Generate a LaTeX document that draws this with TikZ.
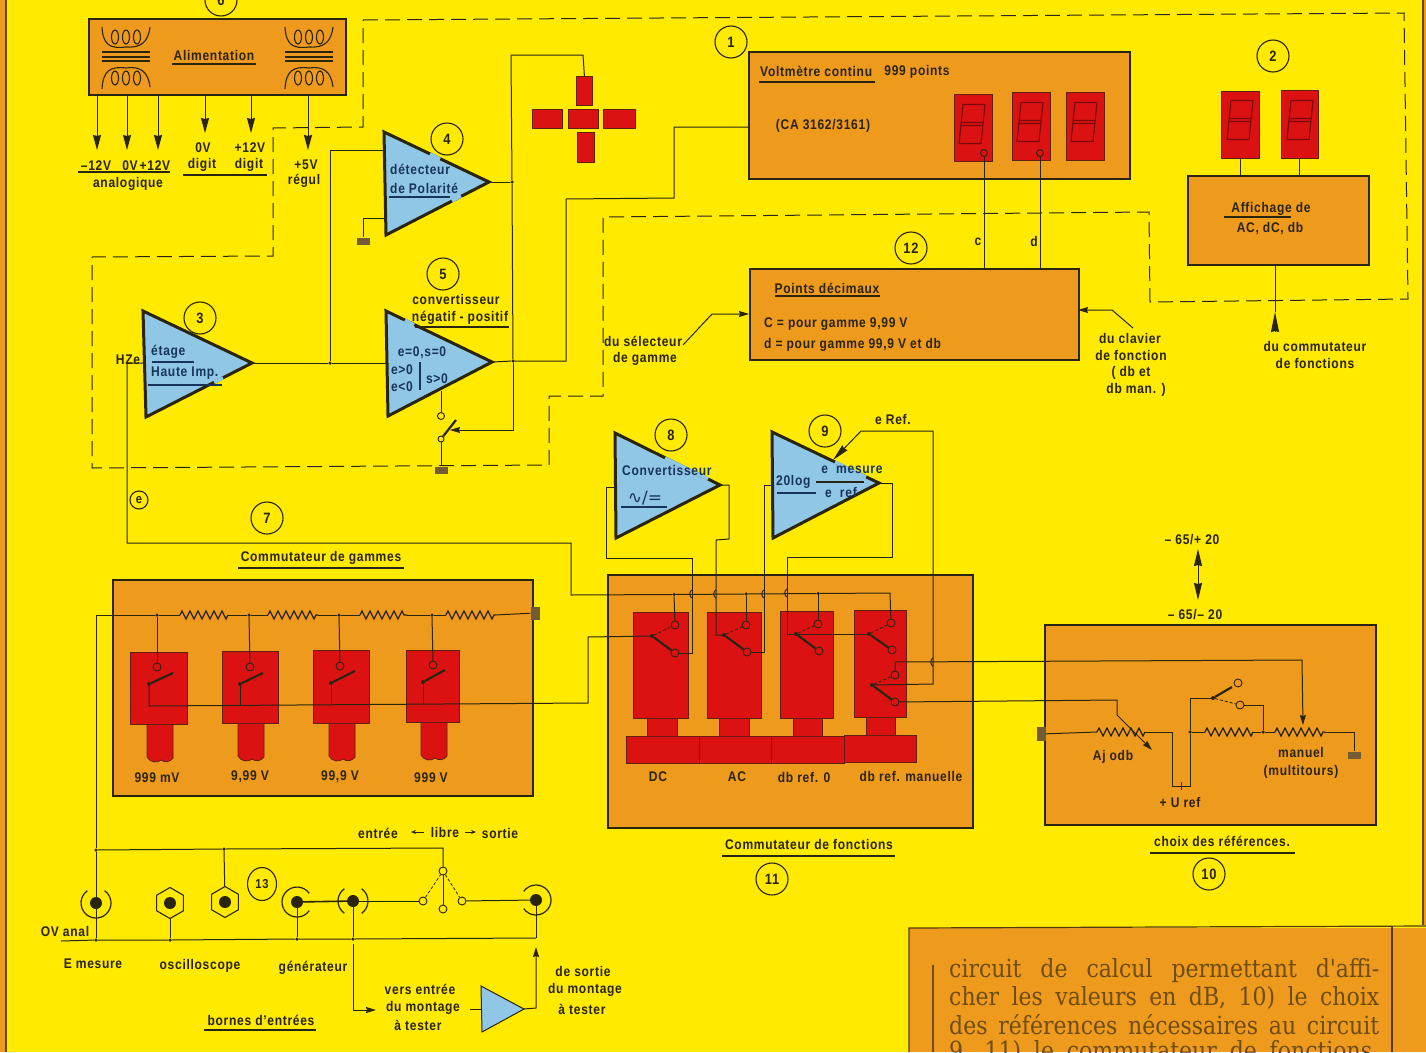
\documentclass[tikz,border=0pt]{standalone}
\usepackage{fontspec}
\setmainfont{Liberation Sans}[FakeStretch=0.86,LetterSpace=5]
\newfontfamily\slabfont{DejaVu Serif}[FakeStretch=0.88]
\newfontfamily\symfont{DejaVu Sans}
\usepackage{tikz}
\usetikzlibrary{arrows.meta, calc, shapes.geometric, decorations.pathmorphing}
\definecolor{paper}{HTML}{FFEA00}
\definecolor{ambre}{HTML}{EE9A1C}
\definecolor{rouge}{HTML}{DC1212}
\definecolor{bleu}{HTML}{90C6E6}
\definecolor{ink}{HTML}{2A2412}
\definecolor{navy}{HTML}{17355A}
\definecolor{brun}{HTML}{6E4C12}

\begin{document}
\begin{tikzpicture}[
  x=1pt, y=-1pt,
  lbl/.style    = {font=\fontsize{14}{16}\selectfont\bfseries, text=ink, inner sep=0pt, align=center, yshift=-1.5pt},
  ampl/.style   = {lbl, text=navy},
  num/.style    = {circle, draw=ink, line width=1.1pt, minimum size=32pt, inner sep=0pt,
                   font=\fontsize{15}{16}\selectfont\bfseries, text=ink},
  panel/.style  = {draw=ink, line width=2.4pt, fill=ambre, anchor=north west, inner sep=0pt},
  redbox/.style = {draw=ink!70!rouge, line width=.8pt, fill=rouge, anchor=north west, inner sep=0pt},
  amp/.style    = {draw=ink, line width=3pt, fill=bleu, line join=miter},
  ampgap/.style = {draw=bleu, line width=3.4pt},
  wire/.style   = {draw=ink, line width=1pt},
  hop/.style    = {wire, bend right=70},
  flow/.style   = {wire, -{Stealth[length=15pt,width=8pt,inset=1pt]}},
  small/.style  = {wire, -{Stealth[length=10pt,width=6pt,inset=1pt]}},
  uline/.style  = {draw=ink, line width=1.2pt},
  dashb/.style  = {draw=ink, line width=1pt, dash pattern=on 15pt off 7pt},
  res/.style    = {wire, line width=1.3pt, decorate, decoration={zigzag, segment length=8pt, amplitude=4pt}},
  contact/.style= {circle, draw=ink, line width=.9pt, minimum size=8pt, inner sep=0pt},
  pivot/.style  = {circle, fill=ink, minimum size=4pt, inner sep=0pt},
  dot/.style    = {circle, fill=ink, minimum size=3.5pt, inner sep=0pt},
  blade/.style  = {draw=ink, line width=2.2pt},
  open/.style   = {draw=ink, line width=.8pt, dashed, dash pattern=on 3pt off 2pt},
  gnd/.style    = {fill=brun!70!gray, minimum width=13pt, minimum height=7pt, inner sep=0pt},
  bnc/.style    = {circle, fill=ink, minimum size=12pt, inner sep=0pt},
  hexa/.style   = {regular polygon, regular polygon sides=6, shape border rotate=30, draw=ink,
                   line width=1.1pt, minimum size=31pt, inner sep=0pt},
  para/.style   = {font=\fontsize{25}{27}\selectfont\slabfont, text=brun, anchor=west, inner sep=0pt},
  digit/.pic    = {\draw[draw=rouge!55!black, line width=1.2pt]
                     (-9,-19.5) -- (13,-19.5) -- (9,19.5) -- (-13,19.5) -- cycle
                     (-11,-1.5) -- (11,-1.5) (-11,1.5) -- (11,1.5);},
  stem/.pic     = {\draw[draw=ink!70!rouge, line width=.8pt, fill=rouge] (0,0) -- (0,33)
                     .. controls (3,39) and (11,39) .. (14,36) .. controls (18,39) and (23,38) .. (26,34)
                     -- (26,0) -- cycle;},
  trafo/.pic    = {\draw[draw=ink, line width=1.1pt]
                     (0,0) .. controls (1,18) and (8,22) .. (24,20) .. controls (38,21) and (46,16) .. (48,0)
                     (13,10) circle[x radius=3.5, y radius=7] (24,10) circle[x radius=3.5, y radius=7]
                     (35,10) circle[x radius=3.5, y radius=7];
                   \draw[draw=ink, line width=1.3pt] (0,25) -- (48,25) (0,30) -- (48,30) (0,34) -- (48,34);
                   \draw[draw=ink, line width=1.1pt]
                     (0,62) .. controls (1,44) and (8,39) .. (24,41) .. controls (38,39) and (46,44) .. (48,60)
                     (13,51) circle[x radius=3.5, y radius=7] (24,51) circle[x radius=3.5, y radius=7]
                     (35,51) circle[x radius=3.5, y radius=7];},
  ring/.pic     = {\draw[draw=ink, line width=1.2pt] (35:15) arc[start angle=35, end angle=325, radius=15];},
  ringb/.pic    = {\draw[draw=ink, line width=1.2pt] (35:15) arc[start angle=35, end angle=145, radius=15]
                     (215:15) arc[start angle=215, end angle=325, radius=15];},
]
\useasboundingbox (0,0) rectangle (1426,1052);

% --- page ----------------------------------------------------------------
\fill[paper] (0,0) rectangle (1426,1052);
\fill[ambre] (0,0) rectangle (5,1052);
\fill[ambre] (1423,0) rectangle (1426,925);
\draw[draw=ink!70!ambre, line width=1.4pt] (6,0) -- (6,1052);
\draw[draw=ink!70!ambre, line width=1.4pt] (1423,0) -- (1423,925);

% --- dashed frame --------------------------------------------------------
\draw[dashb] (363,20) -- (1404,13) -- (1408,299) -- (1150,302) -- (1149,212) -- (603,217)
  -- (603,396) -- (549,396) -- (549,465) -- (92,468) -- (92,257) -- (273,256) -- (273,128)
  -- (363,127) -- cycle;

% --- power supply --------------------------------------------------------
\node[panel, minimum width=257pt, minimum height=76pt] (alim) at (88,18) {};
\path (102,27) pic {trafo} (285,27) pic {trafo};
\node[lbl] (talim) at (214,54) {Alimentation};
\draw[uline] (172,64) -- (256,64);
\node[num] (n6) at (221,0) {6};
\coordinate (m12) at (97,94);   \coordinate (z12) at (127,94);  \coordinate (p12) at (158,94);
\coordinate (z0)  at (205,94);  \coordinate (p12d) at (251,94); \coordinate (p5) at (308,94);
\node[lbl] (tm12) at (96,164) {–12V};
\node[lbl] (tz12) at (130,164) {0V};
\node[lbl] (tp12) at (155,164) {+12V};
\node[lbl] (tana) at (128,182) {analogique};
\node[lbl] (tz0)  at (203,146) {0V};
\node[lbl] (td0)  at (202,163) {digit};
\node[lbl] (tpd)  at (250,146) {+12V};
\node[lbl] (td1)  at (249,163) {digit};
\node[lbl] (tp5)  at (306,163) {+5V};
\node[lbl] (treg) at (304,179) {régul};
\draw[flow] (m12) -- (97,150);
\draw[flow] (z12) -- (127,150);
\draw[flow] (p12) -- (158,150);
\draw[flow] (z0) -- (205,133);
\draw[flow] (p12d) -- (251,133);
\draw[flow] (p5) -- (308,150);
\draw[uline] (78,172) -- (170,172);
\draw[uline] (183,175) -- (267,175);

% --- amplifiers -----------------------------------------------------------
\draw[amp] (143,311) -- (252,363) coordinate (a3o) -- (146,417) -- cycle;
\draw[amp] (386,311) -- (492,362) coordinate (a5o) -- (388,416) -- cycle;
\draw[amp] (384,132) -- (489,182) coordinate (a4o) -- (386,235) -- cycle;
\draw[amp] (615,433) -- (720,485) coordinate (a8o) -- (616,538) -- cycle;
\draw[amp] (772,432) -- (879,483) coordinate (a9o) -- (773,538) -- cycle;
\coordinate (a3i) at (144,363); \coordinate (a5i) at (387,363); \coordinate (a4i) at (385,150);
\coordinate (a4g) at (385,218); \coordinate (a8i) at (615,487); \coordinate (a9i) at (772,485);
\coordinate (a5s) at (441,391); \coordinate (a9r) at (833,460);

% the outline stops where a label runs over it
\draw[ampgap] (665,458) -- (708,479);
\draw[ampgap] (835,462) -- (866,477);
\draw[ampgap] (214,382) -- (223,378);
\draw[ampgap] (430,154) -- (440,159);
\draw[ampgap] (452,201) -- (461,196);
\draw[ampgap] (405,320) -- (414,325);

\node[ampl, anchor=west] (tet) at (151,350) {étage};
\node[ampl, anchor=west] (tha) at (151,372) {Haute Imp.};
\draw[uline, draw=navy] (152,362) -- (194,362);
\draw[uline, draw=navy] (148,385) -- (222,385);
\node[ampl, anchor=west] (tde) at (390,168) {détecteur};
\node[ampl, anchor=west] (tpo) at (390,187) {de Polarité};
\draw[uline, draw=navy] (389,197) -- (450,197);
\node[lbl] (tco) at (456,298) {convertisseur};
\node[lbl] (tng) at (460,316) {négatif - positif};
\draw[uline] (415,327) -- (509,327);
\node[ampl] (te0) at (422,351) {e=0,s=0};
\node[ampl] (te1) at (402,368) {e>0};
\node[ampl] (te2) at (402,385) {e<0};
\node[ampl] (ts0) at (437,377) {s>0};
\draw[uline, draw=navy] (420,362) -- (420,390);
\node[ampl, anchor=west] (tcv) at (622,469) {Convertisseur};
\node[ampl, font=\fontsize{17}{17}\selectfont\symfont] (tac) at (645,497) {∿/=};
\draw[uline, draw=navy] (621,507) -- (667,507);
\node[ampl, anchor=west] (t20) at (776,480) {20log};
\node[ampl] (tms) at (852,468) {e\ \ mesure};
\node[ampl] (trf) at (841,491) {e\ \ ref};
\draw[uline, draw=navy] (777,493) -- (816,493);
\draw[uline] (816,482) -- (864,482);

\node[num] (n3) at (200,318) {3};
\node[num] (n4) at (447,139) {4};
\node[num] (n5) at (443,274) {5};
\node[num] (n8) at (671,435) {8};
\node[num] (n9) at (825,431) {9};
\node[num] (n7) at (267,518) {7};
\node[num] (n1) at (731,42) {1};
\node[num] (n2) at (1273,56) {2};
\node[num] (n12) at (911,248) {12};
\node[num] (n11) at (772,879) {11};
\node[num] (n10) at (1209,874) {10};
\node[num, minimum size=18pt, font=\fontsize{13}{14}\selectfont\bfseries] (ne) at (139,500) {e};
\node[num, ellipse, minimum width=29pt, minimum height=33pt, font=\fontsize{13}{14}\selectfont\bfseries] (n13) at (262,884) {13};
\node[lbl] (thz) at (128,358) {HZe};

% --- polarity lamps --------------------------------------------------------
\node[redbox, minimum width=16pt, minimum height=29pt] (lt) at (576,76) {};
\node[redbox, minimum width=30pt, minimum height=19pt] (ll) at (532,109) {};
\node[redbox, minimum width=30pt, minimum height=19pt] (lc) at (568,109) {};
\node[redbox, minimum width=32pt, minimum height=19pt] (lr) at (603,109) {};
\node[redbox, minimum width=17pt, minimum height=30pt] (lb) at (577,132) {};

% --- voltmeter -------------------------------------------------------------
\node[panel, minimum width=381pt, minimum height=127pt] (volt) at (748,51) {};
\node[lbl, anchor=west] (tvo) at (760,70) {Voltmètre continu};
\node[lbl] (t999) at (917,70) {999 points};
\draw[uline] (759,82) -- (875,82);
\node[lbl] (tca) at (823,124) {(CA 3162/3161)};
\node[redbox, minimum width=38pt, minimum height=67pt] (d1) at (954,94) {};
\node[redbox, minimum width=38pt, minimum height=68pt] (d2) at (1012,92) {};
\node[redbox, minimum width=38pt, minimum height=68pt] (d3) at (1066,92) {};
\path (972,124) pic {digit} (1030,122) pic {digit} (1084,122) pic {digit};
\node[contact, minimum size=7pt] (cc) at (984,153) {};
\node[contact, minimum size=7pt] (cd) at (1040,153) {};

% --- function display ------------------------------------------------------
\node[panel, minimum width=181pt, minimum height=89pt] (aff) at (1187,175) {};
\node[redbox, minimum width=38pt, minimum height=67pt] (d4) at (1221,91) {};
\node[redbox, minimum width=37pt, minimum height=68pt] (d5) at (1281,90) {};
\path (1240,120) pic {digit} (1300,120) pic {digit};
\node[lbl] (taf) at (1271,207) {Affichage de};
\node[lbl] (tacd) at (1270,227) {AC, dC, db};
\draw[uline] (1224,217) -- (1291,217);
\draw[wire] (d4.south) -- (d4.south |- aff.north);
\draw[wire] (d5.south) -- (d5.south |- aff.north);
\coordinate (affin) at (1275,264);
\draw[wire] (1275,312) -- (affin);
\draw[flow, -{Stealth[length=20pt,width=8pt,inset=1pt]}] (1275,332) -- (1275,312);
\node[lbl] (tdu) at (1315,345) {du commutateur};
\node[lbl] (tfo) at (1315,362) {de fonctions};

% --- decimal points --------------------------------------------------------
\node[panel, minimum width=329pt, minimum height=91pt] (pts) at (749,268) {};
\node[lbl] (tpt) at (827,287) {Points décimaux};
\draw[uline] (775,296) -- (880,296);
\node[lbl, anchor=west] (tc1) at (764,323) {C\ = pour gamme 9,99 V};
\node[lbl, anchor=west] (td2) at (764,343) {d\ = pour gamme 99,9 V et db};
\coordinate (ptsl) at (749,314);
\coordinate (ptsr) at (1078,310);
\draw[wire] (cc) -- (cc |- pts.north);
\draw[wire] (cd) -- (cd |- pts.north);
\node[lbl] (tcc) at (978,240) {c};
\node[lbl] (tdd) at (1034,240) {d};
\draw[small] (683,345) -- (712,314) -- (ptsl);
\draw[small] (1133,328) -- (1112,310) -- (ptsr);
\node[lbl] (tse) at (643,340) {du sélecteur};
\node[lbl] (tga) at (645,357) {de gamme};
\node[lbl] (tcl) at (1130,337) {du clavier};
\node[lbl] (tfn) at (1131,354) {de fonction};
\node[lbl] (tdb) at (1131,371) {( db et};
\node[lbl] (tma) at (1136,388) {db man. )};

% --- input chain -----------------------------------------------------------
\node[dot] (j1) at (330,363) {};
\node[dot] (j2) at (512,182) {};
\node[dot] (j3) at (513,361) {};
\draw[wire] (a3o) -- (j1) -- (a5i);
\draw[wire] (j1) -- (330,150) -- (a4i);
\node[gnd] (g1) at (363,241) {};
\draw[wire] (a4g) -- (363,218) -- (g1);
\draw[wire] (a4o) -- (j2);
\draw[wire] (583,55) -- (511,55) -- (j2) -- (j3);
\draw[wire] (583,55) -- (lt.north);
\draw[wire] (a5o) -- (j3) -- (566,361) -- (566,199) -- (674,198) -- (674,127) -- (volt.west |- 0,127);
\node[contact, minimum size=7pt] (s1) at (441,416) {};
\node[contact, minimum size=6pt] (s2) at (441,439) {};
\node[gnd] (g2) at (441,470) {};
\coordinate (s3) at (456,420);
\draw[wire] (a5s) -- (s1);
\draw[blade] (s2) -- (s3);
\draw[wire] (s2) -- (g2);
\draw[small] (j3) -- (513,430) -- (450,430);

% --- range switch ----------------------------------------------------------
\node[lbl] (tcg) at (321,556) {Commutateur de gammes};
\draw[uline] (238,568) -- (404,568);
\node[panel, minimum width=420pt, minimum height=216pt] (gam) at (112,579) {};
\path (147,724) pic {stem} (238,723) pic {stem} (329,723) pic {stem} (421,722) pic {stem};
\node[redbox, minimum width=57pt, minimum height=72pt] (r1) at (130,652) {};
\node[redbox, minimum width=56pt, minimum height=72pt] (r2) at (222,651) {};
\node[redbox, minimum width=56pt, minimum height=73pt] (r3) at (313,650) {};
\node[redbox, minimum width=53pt, minimum height=72pt] (r4) at (406,650) {};
\node[lbl] (t1v) at (157,776) {999 mV};
\node[lbl] (t2v) at (250,775) {9,99 V};
\node[lbl] (t3v) at (340,775) {99,9 V};
\node[lbl] (t4v) at (431,776) {999 V};
\node[gnd, minimum width=9pt, minimum height=13pt] (g3) at (535,613) {};
\node[dot] (k0) at (157,615) {};
\node[dot] (k1) at (249,615) {};
\node[dot] (k2) at (339,615) {};
\node[dot] (k3) at (432,615) {};
\coordinate (ra1) at (180,615); \coordinate (rb1) at (228,615);
\coordinate (ra2) at (268,615); \coordinate (rb2) at (318,615);
\coordinate (ra3) at (360,615); \coordinate (rb3) at (407,615);
\coordinate (ra4) at (446,615); \coordinate (rb4) at (495,615);
\draw[res] (ra1) -- (rb1);
\draw[res] (ra2) -- (rb2);
\draw[res] (ra3) -- (rb3);
\draw[res] (ra4) -- (rb4);
\node[contact] (q1) at (157,667) {};
\node[contact] (q2) at (250,667) {};
\node[contact] (q3) at (340,666) {};
\node[contact] (q4) at (433,665) {};
\node[pivot] (v1) at (149,684) {};
\node[pivot] (v2) at (240,684) {};
\node[pivot] (v3) at (331,683) {};
\node[pivot] (v4) at (423,682) {};
\draw[blade] (v1) -- (173,673);
\draw[blade] (v2) -- (263,673);
\draw[blade] (v3) -- (355,671);
\draw[blade] (v4) -- (445,670);
\draw[wire] (k0) -- (q1);
\draw[wire] (k1) -- (q2);
\draw[wire] (k2) -- (q3);
\draw[wire] (k3) -- (q4);
\draw[wire] (v2) -- (240,705);
\draw[wire] (v3) -- (331,705);
\draw[wire] (v4) -- (423,704);

% --- function switch -------------------------------------------------------
\node[panel, minimum width=365pt, minimum height=253pt] (fon) at (607,574) {};
\node[redbox, minimum width=30pt, minimum height=20pt] (m1) at (647,717) {};
\node[redbox, minimum width=30pt, minimum height=20pt] (m2) at (719,717) {};
\node[redbox, minimum width=29pt, minimum height=20pt] (m3) at (793,717) {};
\node[redbox, minimum width=29pt, minimum height=20pt] (m4) at (866,716) {};
\node[redbox, minimum width=55pt, minimum height=106pt] (f1) at (633,612) {};
\node[redbox, minimum width=54pt, minimum height=106pt] (f2) at (707,612) {};
\node[redbox, minimum width=53pt, minimum height=107pt] (f3) at (780,611) {};
\node[redbox, minimum width=52pt, minimum height=107pt] (f4) at (854,610) {};
\node[redbox, minimum width=73pt, minimum height=27pt] (b1) at (626,736) {};
\node[redbox, minimum width=72pt, minimum height=27pt] (b2) at (699,736) {};
\node[redbox, minimum width=73pt, minimum height=27pt] (b3) at (771,736) {};
\node[redbox, minimum width=72pt, minimum height=27pt] (b4) at (844,735) {};
\node[lbl] (tdc) at (658,775) {DC};
\node[lbl] (tac2) at (737,775) {AC};
\node[lbl] (tr0) at (804,776) {db ref. 0};
\node[lbl] (trm) at (911,775) {db ref. manuelle};
\node[lbl] (tcf) at (809,843) {Commutateur de fonctions};
\draw[uline] (722,856) -- (895,856);

\node[contact] (u1) at (675,625) {};
\node[contact] (u2) at (746,625) {};
\node[contact] (u3) at (818,624) {};
\node[contact] (u4) at (891,623) {};
\node[contact] (w1) at (675,653) {};
\node[contact] (w2) at (747,652) {};
\node[contact] (w3) at (819,651) {};
\node[contact] (w4) at (892,650) {};
\node[pivot] (p1) at (652,636) {};
\node[pivot] (p2) at (724,635) {};
\node[pivot] (p3) at (796,634) {};
\node[pivot] (p4) at (869,634) {};
\node[pivot] (p5x) at (872,685) {};
\node[contact] (u5) at (895,675) {};
\node[contact] (w5) at (895,702) {};
\draw[blade] (p1) -- (w1);
\draw[blade] (p2) -- (w2);
\draw[blade] (p3) -- (w3);
\draw[blade] (p4) -- (w4);
\draw[blade] (p5x) -- (w5);
\draw[open] (p1) -- (u1);
\draw[open] (p2) -- (u2);
\draw[open] (p3) -- (u3);
\draw[open] (p4) -- (u4);
\draw[open] (p5x) -- (u5);
\node[dot] (h1) at (674,594.5) {};
\node[dot] (h2) at (746,594) {};
\node[dot] (h3) at (818,593.5) {};
\draw[wire] (a3i) -- (127,363) -- (127,543) -- (571,543) -- (571,595) -- (h1) -- (h2) -- (h3) -- (890,593);
\draw[wire] (h1) -- (u1);
\draw[wire] (h2) -- (u2);
\draw[wire] (h3) -- (u3);
\draw[wire] (890,593) -- (u4);
\draw[wire] (a8i) -- (606,487) -- (606,558) -- (692,558) -- (692,653) -- (w1);
\draw[wire] (a8o) -- (729,485) -- (729,539) -- (716,540) -- (716,635) -- (p2);
\draw[wire] (a9i) -- (764,485) -- (764,652) -- (w2);
\draw[wire] (a9o) -- (892,483) -- (892,557) -- (787,557) -- (787,634) -- (p3);
\draw[wire] (p3) -- (p4);
\draw[flow, -{Stealth[length=17pt,width=7pt,inset=1pt]}] (p5x) -- (933,684) -- (933,431) -- (861,431) -- (a9r);
\node[lbl] (tre) at (893,418) {e Ref.};
\draw[hop] (692,590) to (692,598);
\draw[hop] (716,590) to (716,598);
\draw[hop] (764,590) to (764,598);
\draw[hop] (787,589) to (787,597);
\draw[hop] (933,658) to (933,666);

% --- references ------------------------------------------------------------
\node[panel, minimum width=331pt, minimum height=200pt] (refb) at (1044,624) {};
\node[lbl] (tu1) at (1192,538) {– 65/+ 20};
\node[lbl] (tu2) at (1195,613) {– 65/– 20};
\coordinate (up) at (1198,549);
\coordinate (dn) at (1198,600);
\draw[wire, {Stealth[length=17pt,width=8pt,inset=1pt]}-{Stealth[length=17pt,width=8pt,inset=1pt]}] (up) -- (dn);
\node[gnd, minimum width=9pt, minimum height=14pt] (g4) at (1041,734) {};
\coordinate (aj1) at (1097,732); \coordinate (aj2) at (1145,732);
\coordinate (mid1) at (1205,732); \coordinate (mid2) at (1253,732);
\coordinate (man1) at (1275,732); \coordinate (man2) at (1325,732);
\node[dot] (j4) at (1190,732) {};
\node[dot] (j5) at (1263,732) {};
\node[gnd] (g5) at (1354,755) {};
\draw[wire] (g4) -- (aj1);
\draw[res] (aj1) -- (aj2);
\draw[wire] (aj2) -- (1172,732) -- (1172,786) -- (1190,786) -- (j4);
\draw[wire] (j4) -- (mid1);
\draw[res] (mid1) -- (mid2);
\draw[wire] (mid2) -- (j5) -- (man1);
\draw[res] (man1) -- (man2);
\draw[wire] (man2) -- (1354,732) -- (g5);
\draw[wire] (1181,782) -- (1181,790);
\node[pivot] (p6) at (1213,698) {};
\node[contact] (u6) at (1238,683) {};
\node[contact] (w6) at (1240,705) {};
\draw[blade] (p6) -- (1232,687);
\draw[open] (p6) -- (w6);
\draw[wire] (j4) -- (1190,698) -- (p6);
\draw[wire] (w6) -- (1263,705) -- (j5);
\node[lbl] (taj) at (1113,755) {Aj odb};
\node[lbl] (tur) at (1180,801) {+ U ref};
\node[lbl] (tmn) at (1301,751) {manuel};
\node[lbl] (tmt) at (1301,770) {(multitours)};
\node[lbl] (tch) at (1222,840) {choix des références.};
\draw[uline] (1150,853) -- (1295,853);
\draw[small] (u5) -- (895,662) -- (1302,660) -- (1303,725);
\draw[small] (w5) -- (1117,700) -- (1117,715) -- (1152,750);

% --- terminals -------------------------------------------------------------
\node[bnc] (t1) at (96,903) {};
\node[bnc] (t2) at (170,903) {};
\node[bnc] (t3) at (225,902) {};
\node[bnc] (t4) at (297,902) {};
\node[bnc] (t5) at (353,901) {};
\node[bnc] (t6) at (536,900) {};
\path (96,903) pic[rotate=90] {ring} (297,902) pic {ring}
      (353,901) pic[rotate=90] {ringb} (536,900) pic[rotate=180] {ring};
\node[hexa] (x2) at (170,903) {};
\node[hexa] (x3) at (225,902) {};
\node[contact] (y1) at (423,901) {};
\node[contact] (y2) at (443,871) {};
\node[contact] (y3) at (443,909) {};
\node[contact] (y4) at (462,901) {};
\node[dot] (j6) at (96,850) {};
\node[dot] (j7) at (224,849) {};
\node[dot] (e1) at (96,940) {};
\node[dot] (e2) at (170,940) {};
\node[dot] (e3) at (297,939) {};
\node[dot] (e4) at (353,939) {};
\coordinate (rail1) at (61,941);
\coordinate (rail2) at (536,938);
\coordinate (dut) at (376,1010);

% wires of the range switch first run down to the terminals
\draw[wire] (rb4) -- (g3);
\draw[wire] (j6 |- k0) -- (k0) -- (ra1);
\draw[wire] (rb1) -- (k1) -- (ra2);
\draw[wire] (rb2) -- (k2) -- (ra3);
\draw[wire] (rb3) -- (k3) -- (ra4);
\draw[wire] (v1) -- (149,706) -- (588,703) -- (588,637) -- (p1);
\draw[wire] (j6 |- k0) -- (j6) -- (t1);
\draw[wire] (j6) -- (j7) -- (443,848) -- (y2);
\draw[wire] (y2) -- (y3);
\draw[wire] (j7) -- (x3);
\draw[open] (y1) -- (y2);
\draw[open] (y2) -- (y4);
\draw[blade, line width=1.6pt] (t4) -- (t5);
\draw[wire] (t5) -- (y1);
\draw[wire] (y4) -- (t6);
\draw[wire] (rail1) -- (e1) -- (e2) -- (e3) -- (e4) -- (rail2);
\draw[wire] (t1) -- (e1);
\draw[wire] (x2) -- (e2);
\draw[wire] (t4) -- (e3);
\draw[wire] (t5) -- (e4);
\draw[wire] (t6) -- (rail2);
\draw[small] (353,944) -- (353,1010) -- (dut);

\draw[amp, line width=1pt] (481,986) -- (524,1009) coordinate (ao) -- (482,1032) -- cycle;
\coordinate (ai) at (481,1009);
\draw[wire] (470,1009) -- (ai);
\draw[small] (ao) -- (536,1008) -- (536,947);

\node[lbl] (tov) at (65,930) {OV anal};
\node[lbl] (tem) at (93,962) {E mesure};
\node[lbl] (tos) at (200,964) {oscilloscope};
\node[lbl] (tge) at (313,966) {générateur};
\node[lbl] (ten) at (378,832) {entrée};
\node[lbl] (tli) at (445,831) {libre};
\node[lbl] (tso) at (500,832) {sortie};
\coordinate (ael) at (424,832); \coordinate (aer) at (465,832);
\draw[wire, -{Stealth[length=5pt,width=4pt]}] (ael) -- ++(-13,0);
\draw[wire, -{Stealth[length=5pt,width=4pt]}] (aer) -- ++(11,0);
\node[lbl] (tve) at (420,988) {vers entrée};
\node[lbl] (tmo) at (423,1006) {du montage};
\node[lbl] (tte) at (418,1024) {à tester};
\node[lbl] (tsr) at (583,970) {de sortie};
\node[lbl] (tm2) at (585,988) {du montage};
\node[lbl] (tt2) at (582,1008) {à tester};
\node[lbl] (tbo) at (261,1019) {bornes d'entrées};
\draw[uline] (204,1030) -- (316,1030);

% --- article text ----------------------------------------------------------
\fill[ambre] (909,928) rectangle (1426,1052);
\draw[draw=ink!80!ambre, line width=1.2pt] (1426,926) -- (909,928) -- (909,1052);
\draw[draw=ink!80!ambre, line width=1.2pt] (1392,926) -- (1392,1052);
\draw[draw=brun, line width=1.4pt] (933,965) -- (933,1052);
\node[para] (l1) at (949,971) {\makebox[430pt][s]{circuit de calcul permettant d'affi-}};
\node[para] (l2) at (949,998) {\makebox[430pt][s]{cher les valeurs en dB, 10) le choix}};
\node[para] (l3) at (949,1025) {\makebox[430pt][s]{des références nécessaires au circuit}};
\node[para] (l4) at (949,1052) {\makebox[430pt][s]{9, 11) le commutateur de fonctions,}};

\end{tikzpicture}
\end{document}
